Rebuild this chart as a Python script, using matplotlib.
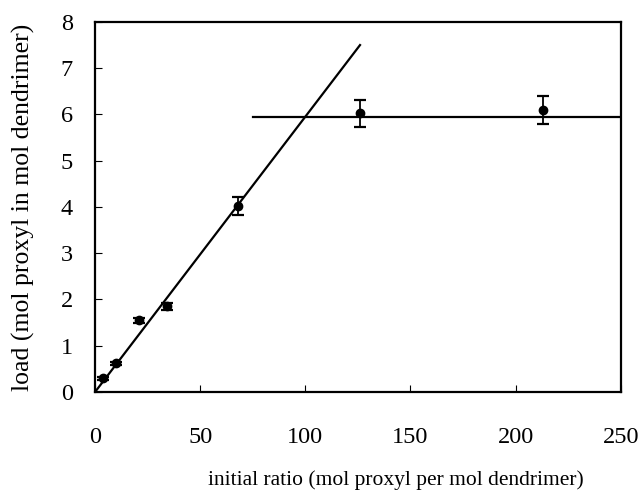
import matplotlib
matplotlib.use("Agg")
import matplotlib.pyplot as plt
import numpy as np

# data
ratio = [4, 10, 21, 34, 68, 126, 213]
load = [0.3, 0.62, 1.55, 1.85, 4.02, 6.02, 6.1]
load_err = [0.03, 0.03, 0.06, 0.08, 0.2, 0.3, 0.3]

# fitted lines
lin_x = [0, 126]
lin_slope = 0.0595
plateau_x = [75, 250]
plateau_y = 5.95

xticks = [0, 50, 100, 150, 200, 250]
yticks = [0, 1, 2, 3, 4, 5, 6, 7, 8]

plt.rcParams['font.family'] = ['Liberation Serif', 'DejaVu Serif']

fig = plt.figure(figsize=(6.42, 4.95), dpi=100)
ax = fig.add_axes([0.148, 0.208, 0.819, 0.748])

ax.plot(lin_x, [lin_slope * v for v in lin_x], color='black', lw=1.6)
ax.plot(plateau_x, [plateau_y, plateau_y], color='black', lw=1.6)
ax.errorbar(ratio, load, yerr=load_err, fmt='o', color='black', ms=6,
            capsize=4, elinewidth=1.3, capthick=1.6)

ax.set_xlim(0, 250)
ax.set_ylim(0, 8)
ax.set_xticks(xticks)
ax.set_yticks(yticks)
ax.tick_params(axis='x', direction='in', length=5, pad=25, labelsize=17.5,
               top=False)
ax.tick_params(axis='y', direction='in', length=5, pad=16, labelsize=17.5,
               right=False)
for s in ax.spines.values():
    s.set_linewidth(1.6)

ax.set_xlabel('initial ratio (mol proxyl per mol dendrimer)', fontsize=15.5)
ax.xaxis.set_label_coords(0.572, -0.21)
ax.set_ylabel('load (mol proxyl in mol dendrimer)', fontsize=18.5)
ax.yaxis.set_label_coords(-0.114, 0.5)

fig.savefig('out.png', dpi=100)
